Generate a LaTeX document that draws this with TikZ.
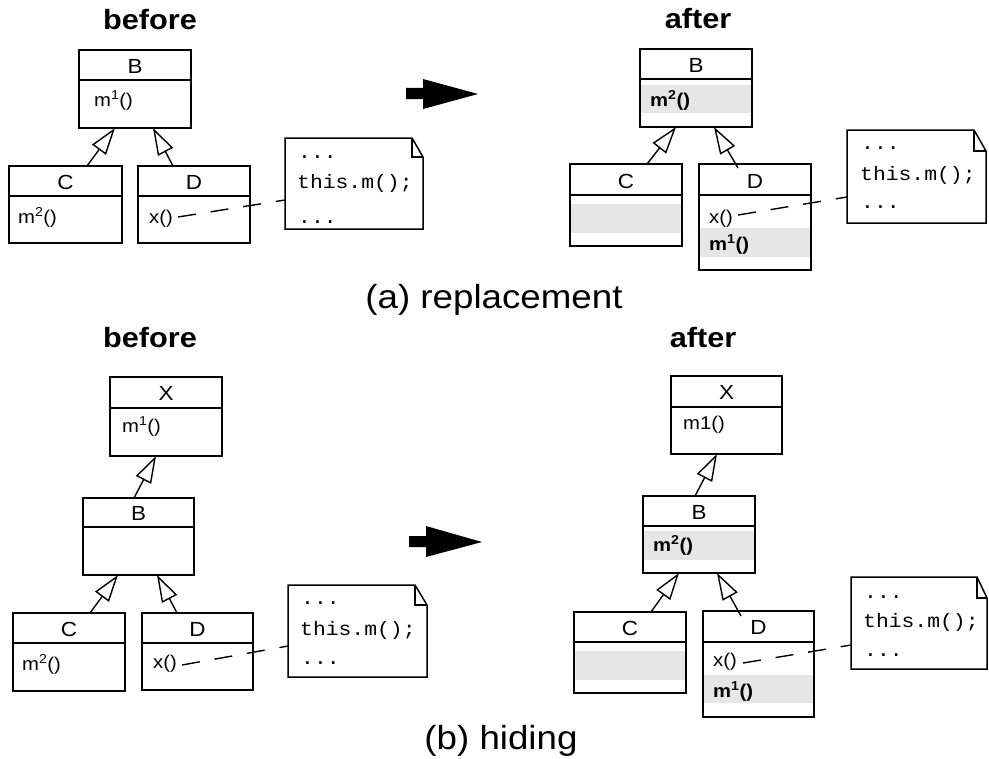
\documentclass[tikz,border=0pt]{standalone}
\usepackage{fontspec}
\setmainfont{Liberation Sans}[FakeStretch=1.1]
\setmonofont{Liberation Mono}[FakeStretch=1.1]
\usetikzlibrary{arrows.meta,fit,calc}
\definecolor{bandgray}{HTML}{E6E6E6}

\tikzset{
  clsbox/.style={draw, line width=1.5bp, inner sep=0pt, outer sep=0pt},
  boxline/.style={line width=1.5bp},
  noteline/.style={line width=1.5bp, line join=miter},
  band/.style={fill=bandgray},
  inh/.style={line width=1.4bp, -{Triangle[open, length=27bp, width=17bp, line width=1.4bp]}},
  dep/.style={line width=1.4bp, dash pattern=on 18bp off 15bp},
  bigarrow/.style={fill=black},
  titletext/.style={font=\fontsize{28}{30}\selectfont\bfseries, inner sep=0pt, anchor=base},
  captext/.style={font=\fontsize{33.5}{36}\selectfont, inner sep=0pt},
  lbl/.style={font=\fontsize{20.5}{22}\selectfont, inner sep=0pt},
  meth/.style={font=\fontsize{18.5}{20}\selectfont, inner sep=0pt, anchor=base west},
  code/.style={font=\fontsize{19.5}{21}\selectfont\ttfamily, inner sep=0pt, anchor=base west},
}

% class box: name, left, top, right, bottom, divider y
\newcommand\umlclass[6]{%
  \node[clsbox, fit={(#2,#3) (#4,#5)}] (#1) {};
  \draw[boxline] (#2,#6) -- (#4,#6);
}
% note: name, left, top, right, bottom, fold x, fold y
\newcommand\umlnote[7]{%
  \node[inner sep=0pt, outer sep=0pt, fit={(#2,#3) (#4,#5)}] (#1) {};
  \draw[noteline] (#2,#3) -- (#6,#3) -- (#4,#7) -- (#4,#5) -- (#2,#5) -- cycle;
  \draw[noteline] (#6,#3) -- (#6,#7) -- (#4,#7);
}

\begin{document}
\begin{tikzpicture}[x=1bp, y=-1bp]
\useasboundingbox (0,0) rectangle (989,759);

% ---------------- (a) replacement ----------------
\node[titletext] (ta1) at (150,30) {before};
\node[titletext] (ta2) at (698,29) {after};

% before
\umlclass{aB}{79}{50}{191}{128}{80}
\node[lbl] (aBl) at (135,66) {B};
\node[meth] (aBm) at (94,106) {m\textsuperscript{1}()};
\umlclass{aC}{9}{166}{122}{243}{196}
\node[lbl] (aCl) at (65.5,182) {C};
\node[meth] (aCm) at (18,223) {m\textsuperscript{2}()};
\umlclass{aD}{138}{166}{250}{243}{196}
\node[lbl] (aDl) at (194,182) {D};
\node[meth] (aDx) at (149,223) {x()};
\umlnote{aN}{285}{138}{423}{229}{412}{157}
\node[code] (aN1) at (298,158) {...};
\node[code] (aN2) at (297,188) {this.m();};
\node[code] (aN3) at (298,223) {...};
\draw[inh] ($(aC.north west)+(78,0)$) -- ($(aB.south west)+(36,0)$);
\draw[inh] ($(aD.north west)+(35,0)$) -- ($(aB.south west)+(74,0)$);
\draw[dep] ($(aD.north west)+(40,51)$) -- ($(aN.north west)+(0,62)$);

\fill[bigarrow] (406,88) -- (423,88) -- (423,79) -- (478,94) -- (423,109) -- (423,99) -- (406,99) -- cycle;

% after
\fill[band] (640,85) rectangle (752,113);
\umlclass{pB}{640}{49}{752}{127}{79}
\node[lbl] (pBl) at (696,65) {B};
\node[meth] (pBm) at (650,106) {\textbf{m\textsuperscript{2}()}};
\fill[band] (570,204) rectangle (682,233);
\umlclass{pC}{570}{164}{682}{246}{195}
\node[lbl] (pCl) at (626,181) {C};
\fill[band] (699,228) rectangle (811,257);
\umlclass{pD}{699}{164}{811}{270}{195}
\node[lbl] (pDl) at (755,181) {D};
\node[meth] (pDx) at (709,223) {x()};
\node[meth] (pDm) at (709,250) {\textbf{m\textsuperscript{1}()}};
\umlnote{pN}{847}{130}{986}{223}{974}{151}
\node[code] (pN1) at (861,149) {...};
\node[code] (pN2) at (860,180) {this.m();};
\node[code] (pN3) at (861,208) {...};
\draw[inh] ($(pC.north west)+(77,0)$) -- ($(pB.south west)+(36,0)$);
\draw[inh] ($(pD.north west)+(39,4)$) -- ($(pB.south west)+(74,0)$);
\draw[dep] ($(pD.north west)+(39,51)$) -- ($(pN.north west)+(0,67)$);

\node[captext] (capa) at (494,300) {(a) replacement};

% ---------------- (b) hiding ----------------
\node[titletext] (tb1) at (150,347) {before};
\node[titletext] (tb2) at (703,347) {after};

% before
\umlclass{bX}{110}{377}{222}{456}{408}
\node[lbl] (bXl) at (166,393) {X};
\node[meth] (bXm) at (122,432) {m\textsuperscript{1}()};
\umlclass{bB}{83}{498}{194}{575}{527}
\node[lbl] (bBl) at (138.5,513) {B};
\umlclass{bC}{13}{613}{125}{691}{643}
\node[lbl] (bCl) at (69,629) {C};
\node[meth] (bCm) at (22,670) {m\textsuperscript{2}()};
\umlclass{bD}{142}{613}{253}{690}{643}
\node[lbl] (bDl) at (197.5,629) {D};
\node[meth] (bDx) at (153,668) {x()};
\umlnote{bN}{288}{585}{427}{677}{415}{605}
\node[code] (bN1) at (301,604) {...};
\node[code] (bN2) at (300,635) {this.m();};
\node[code] (bN3) at (301,664) {...};
\draw[inh] ($(bB.north west)+(51,0)$) -- ($(bX.south west)+(46,0)$);
\draw[inh] ($(bC.north west)+(77,0)$) -- ($(bB.south west)+(35,0)$);
\draw[inh] ($(bD.north west)+(35,0)$) -- ($(bB.south west)+(74,0)$);
\draw[dep] ($(bD.north west)+(40,52)$) -- ($(bN.north west)+(0,61)$);

\fill[bigarrow] (409,536) -- (426,536) -- (426,526) -- (482,542) -- (426,557) -- (426,547) -- (409,547) -- cycle;

% after
\umlclass{qX}{671}{376}{782}{454}{407}
\node[lbl] (qXl) at (726.5,392) {X};
\node[meth] (qXm) at (683,429) {m1()};
\fill[band] (643,531) rectangle (755,560);
\umlclass{qB}{643}{496}{755}{573}{526}
\node[lbl] (qBl) at (699,512) {B};
\node[meth] (qBm) at (653,551) {\textbf{m\textsuperscript{2}()}};
\fill[band] (574,651) rectangle (686,680);
\umlclass{qC}{574}{612}{686}{693}{642}
\node[lbl] (qCl) at (630,628) {C};
\fill[band] (703,675) rectangle (814,703);
\umlclass{qD}{703}{611}{814}{717}{642}
\node[lbl] (qDl) at (758.5,627) {D};
\node[meth] (qDx) at (713,666) {x()};
\node[meth] (qDm) at (713,697) {\textbf{m\textsuperscript{1}()}};
\umlnote{qN}{851}{577}{987}{669}{977}{598}
\node[code] (qN1) at (864,598) {...};
\node[code] (qN2) at (863,627) {this.m();};
\node[code] (qN3) at (864,656) {...};
\draw[inh] ($(qB.north west)+(52,0)$) -- ($(qX.south west)+(46,0)$);
\draw[inh] ($(qC.north west)+(77,0)$) -- ($(qB.south west)+(36,0)$);
\draw[inh] ($(qD.north west)+(38,5)$) -- ($(qB.south west)+(74,0)$);
\draw[dep] ($(qD.north west)+(40,52)$) -- ($(qN.north west)+(0,68)$);

\node[captext] (capb) at (501,741) {(b) hiding};
\end{tikzpicture}
\end{document}
